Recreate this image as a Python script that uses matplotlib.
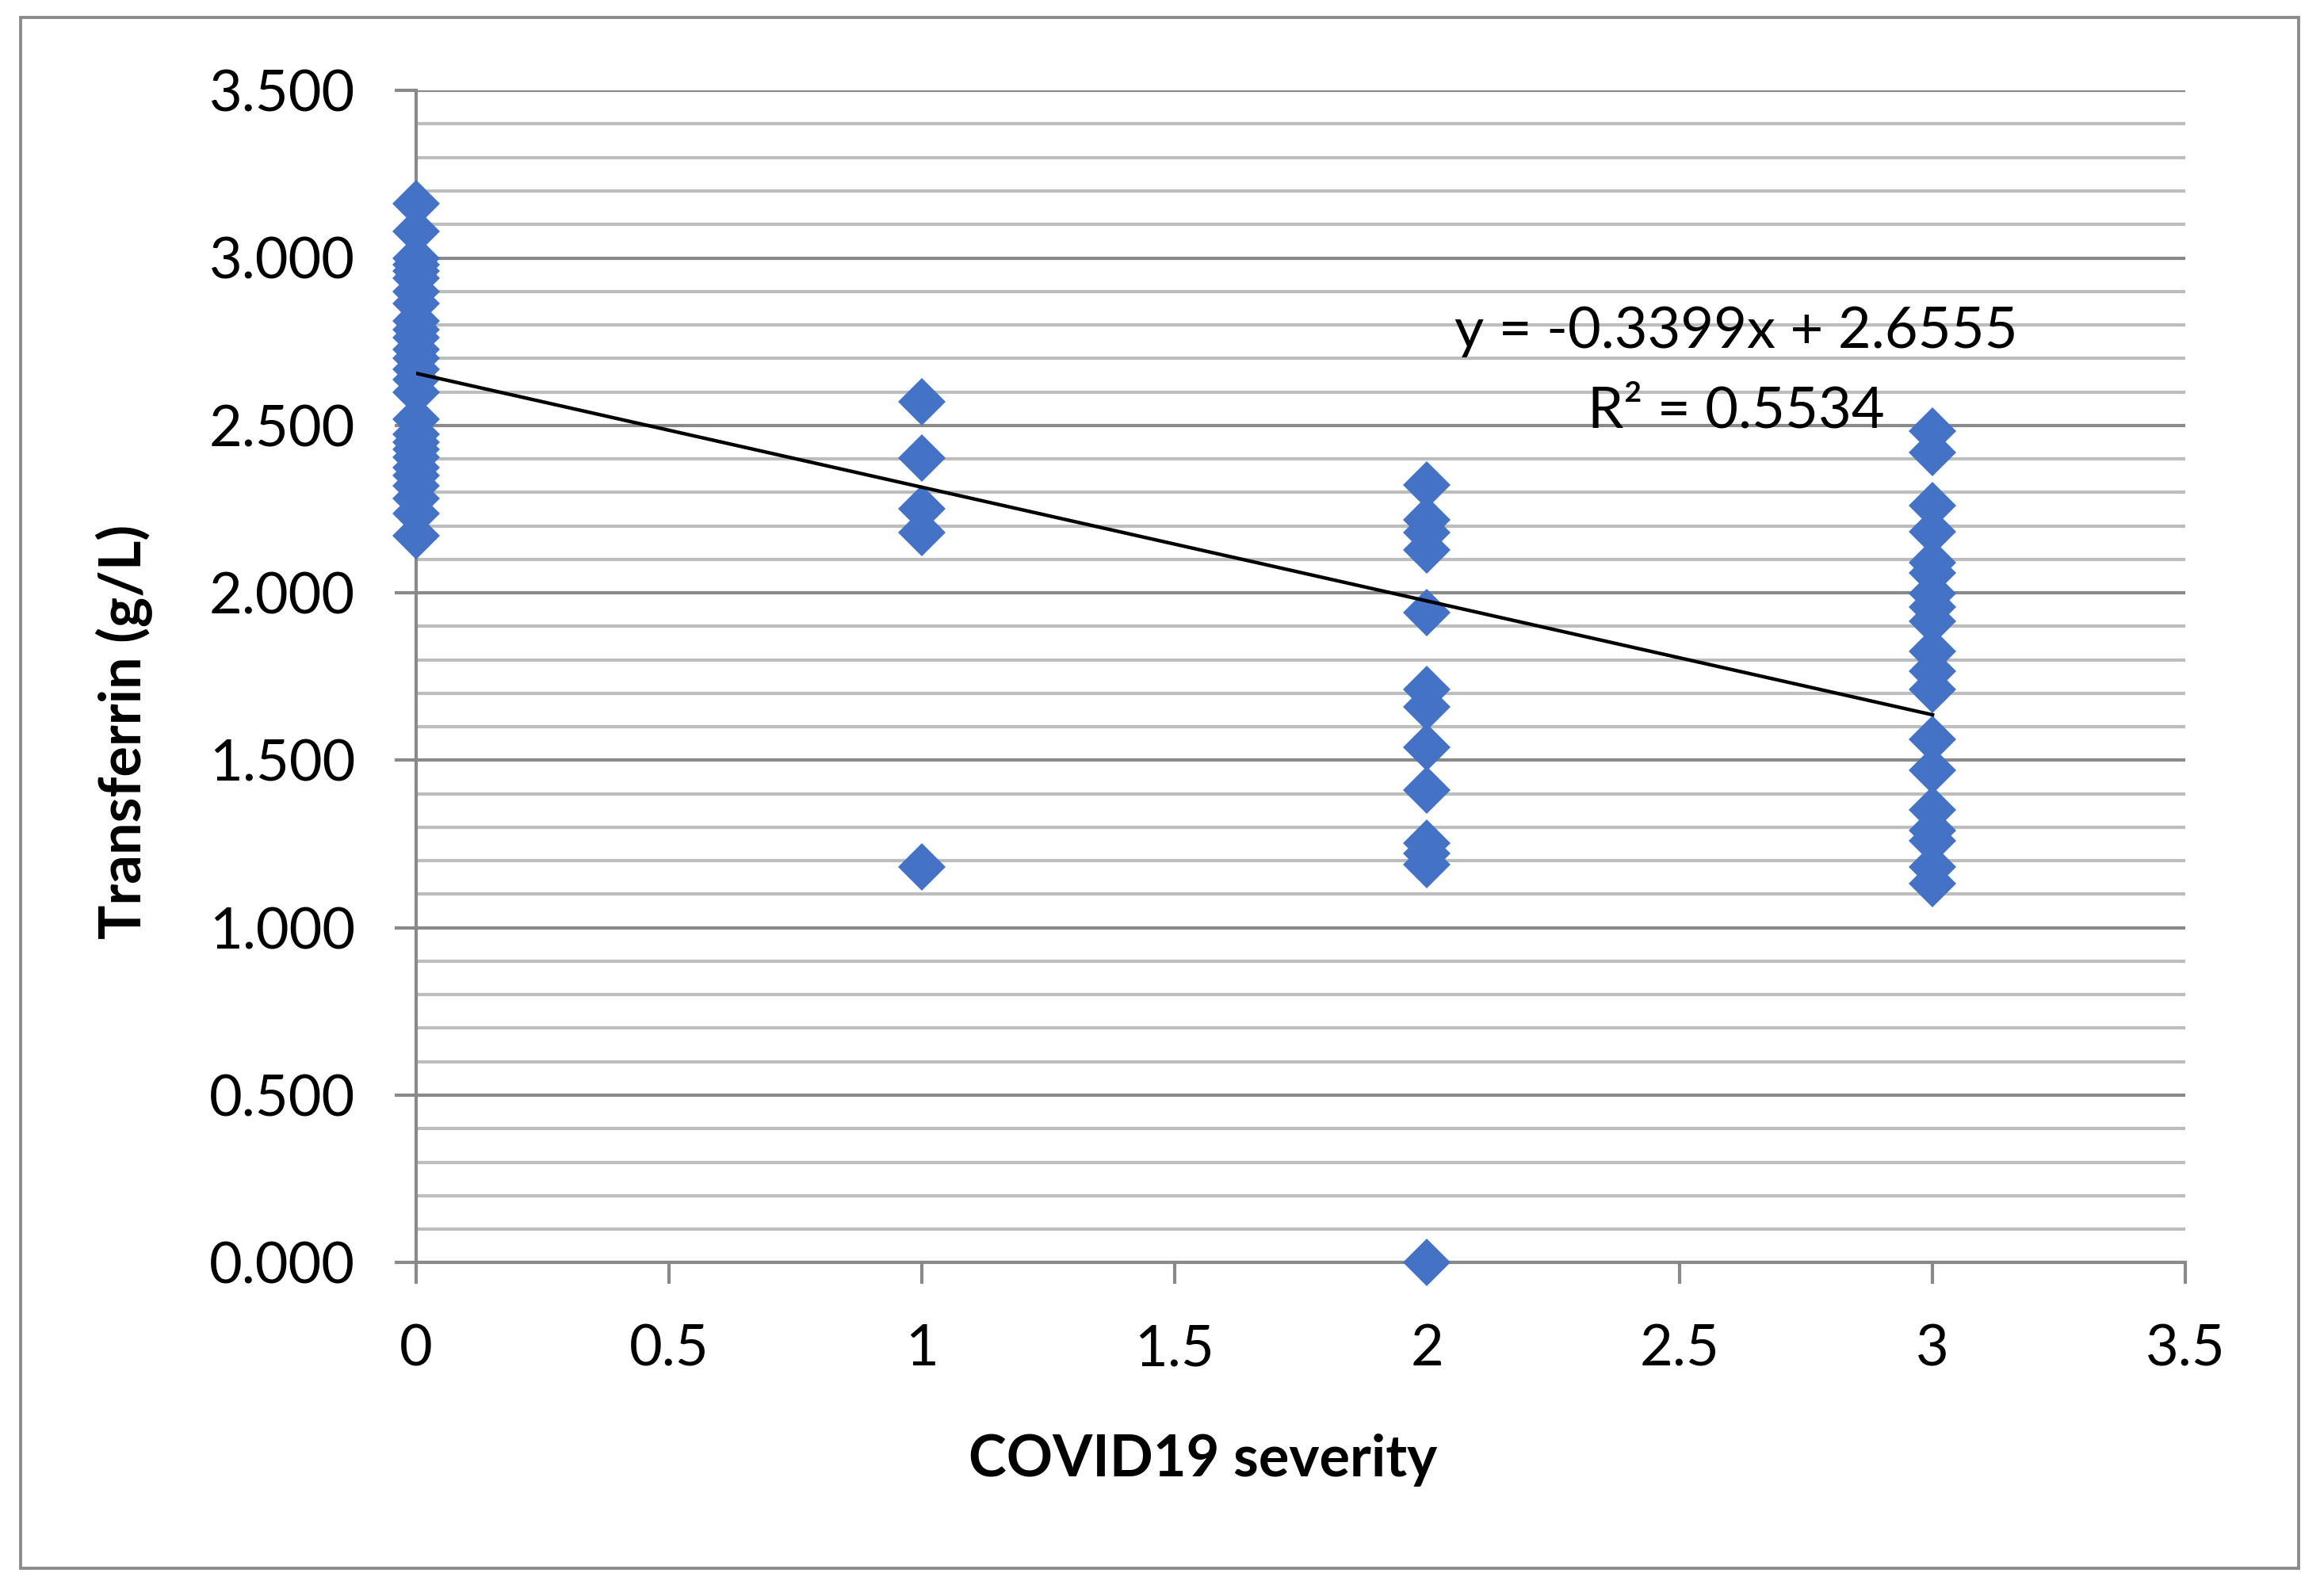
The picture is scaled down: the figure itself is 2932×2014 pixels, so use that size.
import matplotlib
matplotlib.use("Agg")
import matplotlib.pyplot as plt
from matplotlib.patches import Rectangle
from matplotlib.ticker import MultipleLocator, FuncFormatter

plt.rcParams["font.family"] = ["Lato", "DejaVu Sans"]

# =========================
# DATA
# =========================
sev0 = [3.162, 3.080, 2.999, 2.981, 2.962, 2.940, 2.899, 2.863, 2.813,
        2.786, 2.763, 2.727, 2.700, 2.668, 2.637, 2.600, 2.519, 2.474,
        2.451, 2.428, 2.406, 2.374, 2.351, 2.320, 2.283, 2.238, 2.170]
sev1 = [2.570, 2.402, 2.251, 2.180, 1.181]
sev2 = [2.321, 2.218, 2.180, 2.127, 1.942, 1.712, 1.660, 1.539, 1.411,
        1.252, 1.222, 1.189, 0.000]
sev3 = [2.483, 2.419, 2.260, 2.183, 2.091, 2.060, 1.998, 1.957, 1.916,
        1.824, 1.767, 1.711, 1.562, 1.470, 1.352, 1.290, 1.259, 1.182,
        1.131]

groups = [sev0, sev1, sev2, sev3]

slope = -0.3399
intercept = 2.6555
r2 = 0.5534
trend_x = [0, 3]

W, H = 2932, 2014
DPI = 200

fig = plt.figure(figsize=(W / DPI, H / DPI), dpi=DPI)

# outer chart border
fig.patches.append(Rectangle(
    (26 / W, 1 - 1979 / H), 2874 / W, 1957 / H,
    transform=fig.transFigure, fill=False,
    edgecolor="#8c8c8c", linewidth=1.4
))

ax = fig.add_axes([525 / W, 1 - 1593.3 / H, (2757 - 525) / W, (1593.3 - 114.2) / H])

major_grey = "#898989"
minor_grey = "#bdbdbd"

ax.set_xlim(0, 3.5)
ax.set_ylim(0, 3.5)

ax.yaxis.set_major_locator(MultipleLocator(0.5))
ax.yaxis.set_minor_locator(MultipleLocator(0.1))
ax.xaxis.set_major_locator(MultipleLocator(0.5))

ax.yaxis.set_major_formatter(FuncFormatter(lambda v, p: f"{v:.3f}"))
ax.xaxis.set_major_formatter(FuncFormatter(lambda v, p: f"{v:g}"))

ax.grid(axis="y", which="minor", color=minor_grey, linewidth=1.5, zorder=0)
ax.grid(axis="y", which="major", color=major_grey, linewidth=1.5, zorder=0)
ax.set_axisbelow(True)

for side in ["top", "right"]:
    ax.spines[side].set_visible(False)
for side in ["left", "bottom"]:
    ax.spines[side].set_color(major_grey)
    ax.spines[side].set_linewidth(1.5)

ax.tick_params(axis="both", which="major", direction="out", length=9.7,
               width=1.5, color=major_grey, labelsize=26, pad=18,
               labelcolor="black")
ax.tick_params(axis="y", which="minor", length=0)

# =========================
# SCATTER
# =========================
for sev, vals in enumerate(groups):
    ax.plot([sev] * len(vals), vals, linestyle="none", marker="D",
            markersize=15.5, markerfacecolor="#4472C4",
            markeredgewidth=0, clip_on=False, zorder=3)

# =========================
# TRENDLINE
# =========================
trend_y = [slope * x + intercept for x in trend_x]
ax.plot(trend_x, trend_y, color="black", linewidth=1.6, zorder=4)

ax.text(2.611, 2.731, f"y = {slope:.4f}x + {intercept:.4f}",
        ha="center", va="baseline", fontsize=26, zorder=5)
ax.text(2.611, 2.493, f"R\u00b2 = {r2:.4f}",
        ha="center", va="baseline", fontsize=26, zorder=5)

# axis titles
fig.text(1518 / W, 1 - 1863 / H, "COVID19 severity", ha="center",
         va="baseline", fontsize=26, fontweight="bold")
fig.text(178 / W, 1 - 923.6 / H, "Transferrin (g/L)", ha="center",
         va="baseline", rotation=90, rotation_mode="anchor",
         fontsize=26, fontweight="bold")

fig.savefig("out.png", dpi=DPI)
